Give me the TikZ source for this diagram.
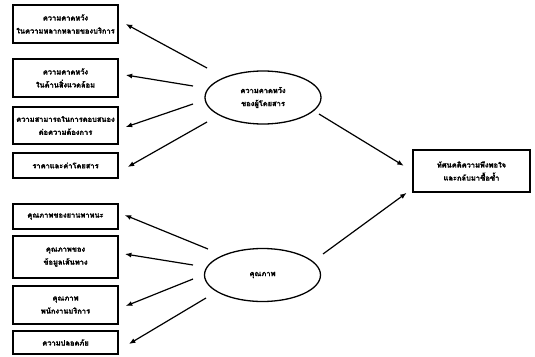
\documentclass[tikz,border=0pt]{standalone}
\usepackage{fontspec}
\newfontfamily\thaifont[Script=Thai,BoldFeatures={FakeBold=1.6}]{Loma}
\usetikzlibrary{shapes.geometric,arrows.meta}
\begin{document}
\begin{tikzpicture}[x=1pt,y=1pt,
  thai/.style={font=\thaifont\bfseries\fontsize{7.5pt}{13pt}\selectfont},
  box/.style={thai,draw,line width=1.4pt,minimum width=105pt,inner sep=0pt,align=center},
  factor/.style={thai,draw,ellipse,line width=1.3pt,minimum width=116pt,minimum height=53pt,inner sep=0pt,align=center},
  arr/.style={line width=1.2pt,-{Latex[length=6.5pt,width=5pt]}}]
  % canvas
  \path[fill=white] (0,0) rectangle (535,-356);
  \useasboundingbox (0,0) rectangle (535,-356);

  % indicators of expectation
  \node[box,minimum height=38pt] (b1) at (65.5,-24) {ความคาดหวัง\\ในความหลากหลายของบริการ};
  \node[box,minimum height=38pt] (b2) at (65.5,-78) {ความคาดหวัง\\ในด้านสิ่งแวดล้อม};
  \node[box,minimum height=37pt] (b3) at (65.5,-125.5) {ความสามารถในการตอบสนอง\\ต่อความต้องการ};
  \node[box,minimum height=25pt] (b4) at (65.5,-165.5) {ราคาและค่าโดยสาร};

  % indicators of quality
  \node[box,minimum height=25pt] (b5) at (65.5,-216.5) {คุณภาพของยานพาหนะ};
  \node[box,minimum height=42pt,line width=1.8pt] (b6) at (65.5,-257) {คุณภาพของ\\ข้อมูลเส้นทาง};
  \node[box,minimum height=38pt] (b7) at (65.5,-305) {คุณภาพ\\พนักงานบริการ};
  \node[box,minimum height=23pt,line width=1.8pt] (b8) at (65.5,-342.5) {ความปลอดภัย};

  % latent factors
  \node[factor] (eA) at (263,-97.5) {ความคาดหวัง\\ของผู้โดยสาร};
  \node[factor] (eB) at (262.5,-275) {คุณภาพ};

  % outcome
  \node[box,minimum width=117pt,minimum height=42pt] (rb) at (471.5,-171) {ทัศนคติความพึงพอใจ\\และกลับมาซื้อซ้ำ};

  % loadings of expectation
  \draw[arr] ([shift={(-56,29.5)}]eA.center) -- ([xshift=7pt]b1.east);
  \draw[arr] ([shift={(-70,11.5)}]eA.center) -- ([xshift=7pt,yshift=3pt]b2.east);
  \draw[arr] ([shift={(-70,-6.5)}]eA.center) -- ([xshift=7pt,yshift=-1.5pt]b3.east);
  \draw[arr] ([shift={(-56,-24.5)}]eA.center) -- ([xshift=9pt,yshift=-1.5pt]b4.east);

  % loadings of quality
  \draw[arr] ([shift={(-54.5,26)}]eB.center) -- ([xshift=6pt,yshift=1.5pt]b5.east);
  \draw[arr] ([shift={(-69.5,10)}]eB.center) -- ([xshift=6pt,yshift=3pt]b6.east);
  \draw[arr] ([shift={(-69.5,-4)}]eB.center) -- ([xshift=7pt,yshift=-1pt]b7.east);
  \draw[arr] ([shift={(-56.5,-23)}]eB.center) -- ([xshift=10pt,yshift=-1.5pt]b8.east);

  % paths to the outcome
  \draw[arr,shorten >=10pt] ([shift={(56,-16.5)}]eA.center) -- (rb.west);
  \draw[arr,shorten >=7pt] ([shift={(60.5,21)}]eB.center) -- ([yshift=4pt]rb.south west);
\end{tikzpicture}
\end{document}
